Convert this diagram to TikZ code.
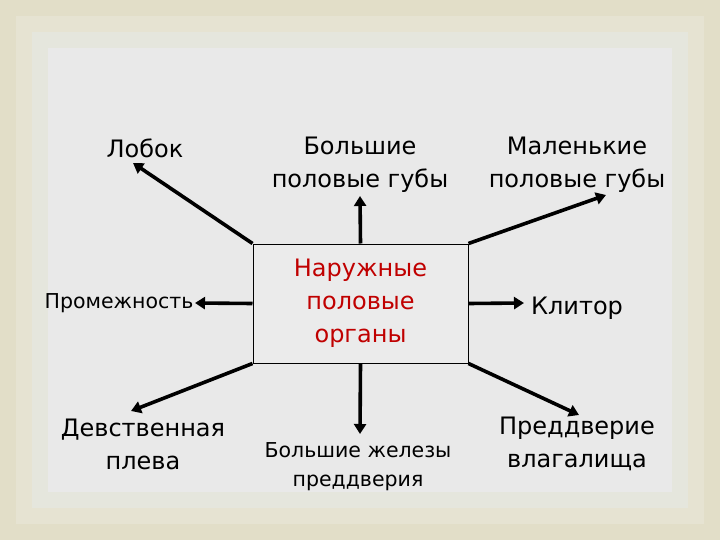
\documentclass[tikz,border=0pt]{standalone}
\usepackage{fontspec}
\setmainfont{DejaVu Sans}
\usetikzlibrary{arrows.meta}

\definecolor{frameA}{HTML}{E2DEC8}
\definecolor{frameB}{HTML}{E6E3D2}
\definecolor{frameC}{HTML}{E5E6DD}
\definecolor{paper}{HTML}{E9E9E9}
\definecolor{inner}{HTML}{EBEBEB}
\definecolor{organred}{HTML}{C00000}

\tikzset{
    big/.style={align=center, font=\fontsize{24}{33}\selectfont},
    small/.style={align=center, font=\fontsize{20.5}{29}\selectfont},
    pointer/.style={-{Triangle[length=10pt,width=12pt]}, line width=3.6pt, black},
}

\begin{document}
\begin{tikzpicture}[x=1pt,y=-1pt]

    % background frame
    \fill[frameA] (0,0) rectangle (720,540);
    \fill[frameB] (16,16) rectangle (704,524);
    \fill[frameC] (32,32) rectangle (688,508);
    \fill[paper] (48,48) rectangle (672,492);
    \useasboundingbox (0,0) rectangle (720,540);

    \node[draw, line width=1pt, fill=inner, minimum width=215pt, minimum height=119pt,
          text=organred, big] (organy) at (360.5,303.5) {Наружные\\половые\\органы};

    \node[big]   (lobok)   at (145,148)   {Лобок};
    \node[big]   (bolshie) at (360,165)   {Большие\\половые губы};
    \node[big]   (malye)   at (577,165)   {Маленькие\\половые губы};
    \node[small] (promezh) at (119,303)   {Промежность};
    \node[big]   (klitor)  at (577,308)   {Клитор};
    \node[big]   (pleva)   at (143,444)   {Девственная\\плева};
    \node[small] (zhelezy) at (358,467)   {Большие железы\\преддверия};
    \node[big]   (preddv)  at (577,444)   {Преддверие\\влагалища};

    % arrow tips
    \coordinate (tA) at (133,163);
    \coordinate (tB) at (360,196);
    \coordinate (tC) at (606,195);
    \coordinate (tD) at (195,303);
    \coordinate (tE) at (524,303);
    \coordinate (tF) at (131,411);
    \coordinate (tG) at (360,434);
    \coordinate (tH) at (579,415);

    \draw[pointer] (organy.north west) -- (tA);
    \draw[pointer] (organy.north) -- (tB);
    \draw[pointer] (organy.north east) -- (tC);
    \draw[pointer] (organy.west) -- (tD);
    \draw[pointer] (organy.east) -- (tE);
    \draw[pointer] (organy.south west) -- (tF);
    \draw[pointer] (organy.south) -- (tG);
    \draw[pointer] (organy.south east) -- (tH);

\end{tikzpicture}
\end{document}
